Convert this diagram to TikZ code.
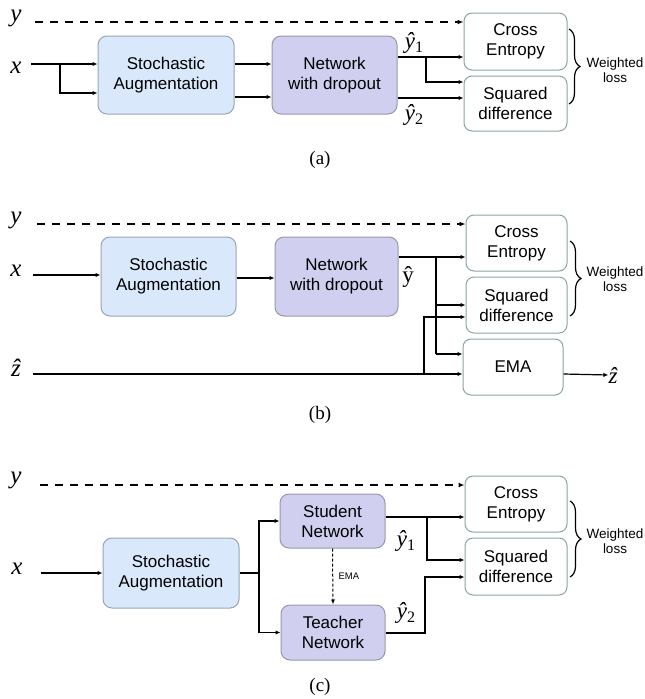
\documentclass[tikz,border=0pt]{standalone}
\usepackage{fontspec}
\setmainfont{Liberation Serif}
\setsansfont{Liberation Sans}
\usetikzlibrary{arrows.meta,decorations.pathreplacing,calc}
\definecolor{augfill}{RGB}{218,232,252}
\definecolor{augdraw}{RGB}{152,166,178}
\definecolor{netfill}{RGB}{208,207,240}
\definecolor{netdraw}{RGB}{150,152,172}
\definecolor{lossdraw}{RGB}{140,165,165}
% hatted output symbols set as single glyphs
\newcommand{\hatsym}[2]{{\itshape #1}\raisebox{-4pt}{\fontsize{16}{16}\selectfont #2}}
\tikzset{
  blk/.style={rounded corners=9pt, line width=1pt, align=center, inner sep=0pt,
    font=\sffamily\fontsize{17}{20}\selectfont},
  augbox/.style={blk, fill=augfill, draw=augdraw},
  netbox/.style={blk, fill=netfill, draw=netdraw},
  lossbox/.style={blk, fill=white, draw=lossdraw, rounded corners=8pt},
  conn/.style={line width=1.2pt, -{Latex[length=5pt,width=4.5pt]}},
  plain/.style={line width=1.2pt},
  target/.style={line width=2pt, dash pattern=on 8pt off 7pt, -{Latex[length=6pt,width=5pt]}},
  var/.style={inner sep=0pt, font=\itshape\fontsize{25}{25}\selectfont},
  outlab/.style={inner sep=0pt, font=\fontsize{23}{23}\selectfont},
  bracepath/.style={line width=1.2pt, decorate, decoration={brace, amplitude=11pt}},
  wloss/.style={align=center, inner sep=0pt, font=\sffamily\fontsize{13.5}{15}\selectfont},
  caption/.style={inner sep=0pt, font=\fontsize{19}{19}\selectfont}
}
\begin{document}
\begin{tikzpicture}[x=1pt,y=-1pt]
\useasboundingbox (0,0) rectangle (645,699);

% ---------------- (a) ----------------
\node[augbox, minimum width=136pt, minimum height=78pt] (saA) at (166,75) {Stochastic\\Augmentation};
\node[netbox, minimum width=125pt, minimum height=78pt] (netA) at (334.5,75) {Network\\with dropout};
\node[lossbox, minimum width=103pt, minimum height=57pt] (ceA) at (515.5,41.5) {Cross\\Entropy};
\node[lossbox, minimum width=103pt, minimum height=55pt] (sdA) at (515.5,103.5) {Squared\\difference};
\node[var] (yA) at (16,18) {y};
\node[var] (xA) at (16,68) {x};
\coordinate (yAs) at (35,22);
\coordinate (xAs) at (31,64);
\coordinate (xAb) at (60,64);
\draw[target] (yAs) -- (yAs -| ceA.west);
\draw[conn] (xAs) -- (xAs -| saA.west);
\draw[conn] (xAb) |- ($(saA.west)+(0,18)$);
\draw[conn] (saA.east |- xAs) -- (netA.west |- xAs);
\draw[conn] ($(saA.east)+(0,22)$) -- ($(netA.west)+(0,22)$);
\coordinate (oA1) at (netA.east |- 0,57);
\coordinate (bA1) at (426,57);
\draw[conn] (oA1) -- (oA1 -| ceA.west);
\draw[conn] (bA1) |- (sdA.west |- 0,82);
\draw[conn] (netA.east |- 0,98) -- (sdA.west |- 0,98);
\node[outlab] (yhA1) at (414,43) {\hatsym{ŷ}{1}};
\node[outlab] (yhA2) at (414,115) {\hatsym{ŷ}{2}};
\draw[bracepath] (569,29) -- (569,104);
\node[wloss] (wlA) at (615,70) {Weighted\\loss};
\node[caption] (capA) at (320,160) {(a)};

% ---------------- (b) ----------------
\node[augbox, minimum width=135pt, minimum height=79pt] (saB) at (168.5,276.5) {Stochastic\\Augmentation};
\node[netbox, minimum width=123pt, minimum height=79pt] (netB) at (336.5,276.5) {Network\\with dropout};
\node[lossbox, minimum width=101pt, minimum height=56pt] (ceB) at (516.5,243) {Cross\\Entropy};
\node[lossbox, minimum width=101pt, minimum height=56pt] (sdB) at (516.5,305) {Squared\\difference};
\node[lossbox, minimum width=100pt, minimum height=56pt] (emaB) at (513,367) {EMA};
\node[var] (yB) at (16,220) {y};
\node[var] (xB) at (16,271) {x};
\node[var] (zB) at (16,368) {ẑ};
\coordinate (yBs) at (37,224);
\coordinate (xBs) at (33,275);
\coordinate (zBs) at (33,374);
\draw[target] (yBs) -- (yBs -| ceB.west);
\draw[conn] (xBs) -- (xBs -| saB.west);
\draw[conn] (saB.east |- 0,278) -- (netB.west |- 0,278);
\coordinate (oB) at (netB.east |- 0,257);
\coordinate (bB) at (436,257);
\draw[conn] (oB) -- (oB -| ceB.west);
\draw[plain] (bB) -- (436,354);
\draw[conn] (436,305) -- (sdB.west |- 0,305);
\draw[conn] (436,354) -- (emaB.west |- 0,354);
\draw[conn] (zBs) -- (zBs -| emaB.west);
\draw[conn] (424,374) |- (sdB.west |- 0,317);
\node[outlab] (zoutB) at (613,375) {\itshape ẑ};
\draw[conn] (emaB.east |- zBs) -- (zoutB.west);
\node[outlab] (yhB) at (408,277) {ŷ};
\draw[bracepath] (570,241) -- (570,316);
\node[wloss] (wlB) at (615,279) {Weighted\\loss};
\node[caption] (capB) at (320,415) {(b)};

% ---------------- (c) ----------------
\node[augbox, minimum width=136pt, minimum height=70pt] (saC) at (171,573) {Stochastic\\Augmentation};
\node[netbox, minimum width=105pt, minimum height=54pt] (stu) at (332.5,521) {Student\\Network};
\node[netbox, minimum width=104pt, minimum height=55pt] (tea) at (333,632.5) {Teacher\\Network};
\node[lossbox, minimum width=102pt, minimum height=56pt] (ceC) at (516,504) {Cross\\Entropy};
\node[lossbox, minimum width=102pt, minimum height=57pt] (sdC) at (516,566.5) {Squared\\difference};
\node[var] (yC) at (16,480) {y};
\node[var] (xC) at (17,569) {x};
\coordinate (yCs) at (40,485);
\coordinate (xCs) at (41,573);
\coordinate (bC) at (259,573);
\draw[target] (yCs) -- (yCs -| ceC.west);
\draw[conn] (xCs) -- (xCs -| saC.west);
\draw[plain] (saC.east) -- (bC);
\draw[conn] (bC) |- (stu.west);
\draw[conn] (bC) |- (tea.west);
\draw[line width=1pt, densely dashed, -{Latex[length=5pt,width=4pt]}] (stu.south) -- (tea.north)
  node[midway, right=2pt, font=\sffamily\fontsize{9.5}{9.5}\selectfont] (emaC) {EMA};
\coordinate (oC1) at (stu.east |- 0,517);
\draw[conn] (oC1) -- (oC1 -| ceC.west);
\draw[conn] (427,517) |- (sdC.west |- 0,560);
\draw[conn] (tea.east |- 0,633) -| (425,577) -- (sdC.west |- 0,577);
\node[outlab] (yhC1) at (406,541) {\hatsym{ŷ}{1}};
\node[outlab] (yhC2) at (406,613) {\hatsym{ŷ}{2}};
\draw[bracepath] (570,501) -- (570,577);
\node[wloss] (wlC) at (615,541) {Weighted\\loss};
\node[caption] (capC) at (320,687) {(c)};
\end{tikzpicture}
\end{document}
